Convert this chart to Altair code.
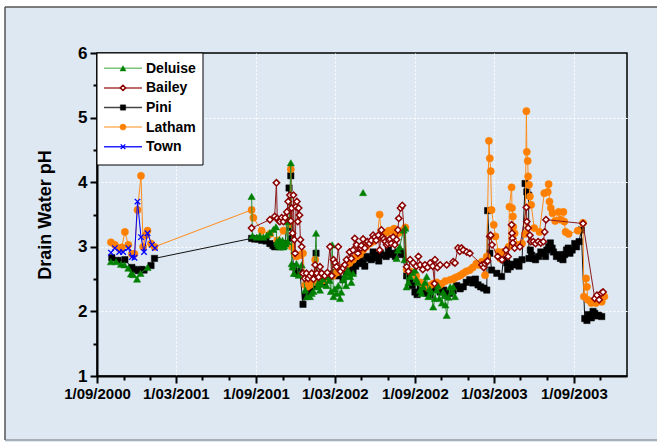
import altair as alt
import pandas as pd

# ---------------- data ----------------
deluise_dates = [
    "2000-10-03", "2000-10-15", "2000-10-26", "2000-11-03", "2000-11-12", "2000-11-18", "2000-11-23",
    "2000-12-02", "2000-12-10", "2000-12-26",
    "2001-08-22", "2001-08-24", "2001-09-03", "2001-09-10", "2001-09-18", "2001-09-26", "2001-10-03",
    "2001-10-11", "2001-10-17", "2001-10-21", "2001-10-25", "2001-10-28", "2001-11-03", "2001-11-08",
    "2001-11-11", "2001-11-16", "2001-11-20", "2001-11-22", "2001-11-24", "2001-11-27", "2001-12-03",
    "2001-12-08", "2001-12-15", "2001-12-23", "2001-12-27", "2002-01-03", "2002-01-11", "2002-01-17",
    "2002-01-20", "2002-01-26", "2002-02-06", "2002-02-14", "2002-02-20", "2002-02-23", "2002-02-26",
    "2002-03-05", "2002-03-13", "2002-03-20", "2002-03-31", "2002-04-05", "2002-04-12",
    "2002-05-05",
    "2002-07-21", "2002-07-24", "2002-07-28", "2002-08-06", "2002-08-08", "2002-08-10", "2002-08-13",
    "2002-08-21", "2002-09-01", "2002-09-08", "2002-09-13", "2002-09-20", "2002-09-28", "2002-10-02",
    "2002-10-08", "2002-10-13", "2002-10-21", "2002-10-27", "2002-11-02", "2002-11-08", "2002-11-13",
    "2002-11-21", "2002-11-28", "2002-12-02",
    # denser readings inside the clusters
    "2001-10-19", "2001-10-23", "2001-10-30", "2001-11-01", "2001-11-05", "2001-11-13",
    "2002-01-07", "2002-01-23", "2002-01-30", "2002-02-02", "2002-02-10", "2002-02-17", "2002-03-01",
    "2002-03-09", "2002-03-16", "2002-03-24", "2002-03-27", "2002-04-02", "2002-04-08",
    "2002-08-17", "2002-08-25", "2002-09-04", "2002-09-16", "2002-09-24", "2002-10-05", "2002-10-17",
    "2002-10-24", "2002-11-05", "2002-11-10", "2002-11-17", "2002-11-25",
]
deluise_ph = [
    2.77, 2.77, 2.73, 2.72, 2.67, 2.58, 2.57, 2.50, 2.59, 2.68,
    3.78, 3.17, 3.15, 3.17, 3.15, 3.18, 3.22, 3.27, 3.31, 3.05, 3.11, 3.00, 3.00, 3.05,
    3.39, 3.41, 4.30, 2.74, 2.69, 2.59, 2.74, 2.56, 2.72, 2.33, 2.23, 2.23, 2.31, 3.21,
    2.38, 2.33, 2.54, 2.54, 2.31, 3.03, 2.23, 2.28, 2.20, 2.49, 2.64, 2.54, 2.59,
    3.84,
    2.82, 2.95, 3.00, 3.26, 2.80, 3.29, 2.38, 2.54, 2.64, 2.45, 2.33, 2.38, 2.54, 2.23,
    2.30, 2.07, 2.33, 2.20, 2.13, 2.25, 1.94, 2.38, 2.38, 2.23,
    3.08, 3.02, 3.05, 3.10, 3.02, 3.08,
    2.28, 2.45, 2.42, 2.50, 2.40, 2.48, 2.35, 2.40, 2.30, 2.55, 2.40, 2.60, 2.45,
    2.45, 2.60, 2.50, 2.28, 2.45, 2.35, 2.20, 2.40, 2.30, 2.10, 2.22, 2.30,
]
# dates where the Deluise line is interrupted (no connecting line across them)
deluise_breaks = ["2001-03-01", "2002-04-20", "2002-06-01"]

bailey_dates = [
    "2001-08-22", "2001-10-03", "2001-10-14", "2001-10-18", "2001-10-20", "2001-10-24", "2001-10-26",
    "2001-10-30", "2001-11-03", "2001-11-07", "2001-11-11", "2001-11-14", "2001-11-18", "2001-11-20",
    "2001-11-22", "2001-11-24", "2001-11-26", "2001-11-28", "2001-11-30", "2001-12-02", "2001-12-04",
    "2001-12-06", "2001-12-08", "2001-12-10", "2001-12-12", "2001-12-15", "2001-12-18", "2001-12-22",
    "2001-12-26", "2001-12-30", "2002-01-03", "2002-01-07", "2002-01-11", "2002-01-15", "2002-01-19",
    "2002-01-23", "2002-01-26", "2002-01-30", "2002-02-06", "2002-02-12", "2002-02-18", "2002-02-22",
    "2002-02-26", "2002-03-05", "2002-03-09", "2002-03-14", "2002-03-20", "2002-03-28", "2002-04-04",
    "2002-04-08", "2002-04-16", "2002-04-20", "2002-04-23", "2002-04-30", "2002-05-05", "2002-05-09",
    "2002-05-15", "2002-05-20", "2002-05-28", "2002-06-04", "2002-06-09", "2002-06-12", "2002-06-16",
    "2002-06-22", "2002-06-28", "2002-07-04", "2002-07-09", "2002-07-13", "2002-07-17", "2002-07-21",
    "2002-07-24", "2002-07-26", "2002-07-30", "2002-08-03", "2002-08-13", "2002-08-17", "2002-08-21",
    "2002-08-28", "2002-09-04", "2002-09-09", "2002-09-13", "2002-09-19", "2002-09-24", "2002-09-30",
    "2002-10-06", "2002-10-12", "2002-10-16", "2002-10-17", "2002-10-23", "2002-10-29", "2002-11-13",
    "2002-11-28", "2002-12-02", "2002-12-09", "2002-12-13", "2002-12-17", "2002-12-21", "2002-12-29",
    "2003-01-05", "2003-02-02", "2003-02-06", "2003-02-09", "2003-02-13", "2003-02-15", "2003-02-20",
    "2003-02-22", "2003-02-25", "2003-03-10", "2003-03-20", "2003-03-29", "2003-04-03", "2003-04-11",
    "2003-04-12", "2003-04-13", "2003-04-14", "2003-04-18", "2003-04-30", "2003-05-15", "2003-05-16",
    "2003-05-19", "2003-05-23", "2003-05-25", "2003-05-31", "2003-06-05", "2003-06-11", "2003-06-17",
    "2003-06-23", "2003-06-26", "2003-06-29", "2003-09-22", "2003-10-19", "2003-10-24", "2003-10-29",
    "2003-11-03", "2003-11-07",
    "2002-03-02", "2002-03-24", "2002-04-12", "2002-05-01", "2002-05-24", "2002-06-01", "2002-06-19",
    "2002-06-25", "2002-07-01", "2002-07-06",
]
bailey_ph = [
    3.29, 3.42, 3.47, 3.99, 3.44, 3.40, 3.39, 3.45, 3.39, 3.45, 3.54, 3.70, 3.80, 3.40,
    3.60, 3.21, 3.80, 3.11, 2.90, 3.62, 3.70, 3.39, 3.60, 3.49, 3.11, 3.00, 2.59, 2.51,
    2.59, 2.51, 2.55, 2.59, 2.50, 2.72, 2.59, 2.53, 2.69, 2.59, 2.55, 2.60, 3.00, 2.55,
    2.80, 2.69, 3.00, 2.62, 2.67, 2.80, 2.92, 2.82, 3.13, 3.03, 2.90, 2.98, 3.12, 2.98,
    3.08, 3.05, 3.18, 3.10, 3.18, 2.95, 3.26, 3.12, 3.03, 3.10, 3.05, 3.15, 3.03, 3.11,
    3.26, 3.44, 3.60, 3.64, 2.69, 2.62, 2.80, 2.75, 2.70, 2.85, 2.72, 2.65, 2.72, 2.68,
    2.75, 2.70, 2.43, 2.80, 2.68, 2.72, 2.72, 2.77, 2.75, 2.98, 2.93, 2.98, 2.95, 2.92,
    2.90, 2.72, 2.68, 2.74, 2.77, 2.78, 3.16, 3.18, 3.03, 2.85, 2.80, 2.95, 2.85, 3.34,
    3.21, 3.13, 3.06, 2.98, 3.00, 3.61, 3.39, 3.29, 3.18, 3.08, 3.08, 3.05, 3.08, 3.06,
    3.08, 3.23, 3.42, 3.36, 2.20, 2.25, 2.18, 2.28, 2.30,
    2.75, 2.72, 2.95, 3.02, 3.10, 3.15, 3.15, 3.08, 3.05, 3.12,
]

pini_dates = [
    "2000-10-05", "2000-10-19", "2000-11-04", "2000-11-20", "2000-11-26", "2000-12-05", "2000-12-12",
    "2000-12-18", "2001-01-03", "2001-01-11",
    "2001-08-22", "2001-08-29", "2001-09-06", "2001-09-14", "2001-09-24", "2001-10-03", "2001-10-10",
    "2001-10-14", "2001-10-20", "2001-10-26", "2001-11-02", "2001-11-07", "2001-11-16", "2001-11-18",
    "2001-11-20", "2001-11-22", "2001-11-26", "2001-12-02", "2001-12-07", "2001-12-11", "2001-12-18",
    "2001-12-23", "2001-12-30", "2002-01-09", "2002-01-17", "2002-01-19", "2002-01-25", "2002-01-31",
    "2002-02-10", "2002-02-18", "2002-03-03", "2002-03-13", "2002-03-20", "2002-03-28", "2002-04-08",
    "2002-04-18", "2002-04-28", "2002-05-05", "2002-05-13", "2002-05-20", "2002-05-28", "2002-06-06",
    "2002-06-14", "2002-06-21", "2002-07-02", "2002-07-12", "2002-07-24", "2002-08-03",
    "2002-08-13", "2002-08-21", "2002-09-01", "2002-09-13", "2002-09-28", "2002-10-13", "2002-10-29",
    "2002-11-13", "2002-11-28", "2002-12-14", "2002-12-21", "2003-01-05", "2003-01-24", "2003-02-06",
    "2003-02-13", "2003-02-15", "2003-02-20", "2003-02-24", "2003-03-08", "2003-03-19", "2003-03-23",
    "2003-03-31", "2003-04-08", "2003-04-16", "2003-04-23", "2003-05-05", "2003-05-12", "2003-05-16",
    "2003-05-20", "2003-05-21", "2003-05-24", "2003-05-31", "2003-06-12", "2003-06-23", "2003-07-01",
    "2003-07-09", "2003-07-16", "2003-07-23", "2003-08-07", "2003-08-15", "2003-08-23", "2003-09-07",
    "2003-09-18", "2003-09-26", "2003-10-01", "2003-10-07", "2003-10-15", "2003-10-23", "2003-11-04",
    # denser readings inside the black band
    "2002-01-05", "2002-01-13", "2002-02-05", "2002-02-25", "2002-03-08", "2002-04-01", "2002-04-12",
    "2002-04-24", "2002-05-09", "2002-05-24", "2002-06-02", "2002-06-10", "2002-06-27", "2002-07-07",
    "2002-07-18", "2002-07-30",
    "2002-08-17", "2002-08-26", "2002-09-06", "2002-09-20", "2002-10-06", "2002-10-21", "2002-11-06",
    "2002-11-20", "2002-12-06", "2002-12-28", "2003-01-12", "2003-01-18", "2003-01-30",
    "2003-04-02", "2003-04-12", "2003-04-28", "2003-05-27", "2003-06-05", "2003-06-17", "2003-06-28",
    "2003-07-05", "2003-07-13", "2003-07-28", "2003-08-01", "2003-08-11", "2003-08-19", "2003-08-28",
    "2003-09-03", "2003-09-13", "2003-10-04", "2003-10-11", "2003-10-19", "2003-10-28",
]
pini_ph = [
    2.83, 2.79, 2.80, 2.68, 2.65, 2.63, 2.65, 2.64, 2.71, 2.82,
    3.13, 3.12, 3.12, 3.10, 3.09, 3.05, 3.02, 3.00, 3.01, 3.00, 3.02, 3.05, 3.91, 3.30,
    4.10, 3.13, 2.69, 2.59, 2.62, 2.60, 2.11, 2.23, 2.31, 2.45, 2.90, 2.54, 2.48, 2.50,
    2.52, 2.54, 2.60, 2.67, 2.49, 2.60, 2.72, 2.70, 2.80, 2.75, 2.85, 2.82, 2.92, 2.87,
    2.90, 2.87, 2.95, 2.90, 2.92, 2.88,
    2.55, 2.45, 2.30, 2.35, 2.28, 2.35, 2.30, 2.25, 2.32, 2.35, 2.38, 2.49, 2.41, 2.36,
    2.33, 3.56, 2.90, 2.64, 2.59, 2.54, 2.80, 2.75, 2.69, 2.72, 2.77, 2.80, 3.98, 3.85,
    3.80, 2.82, 2.95, 2.82, 2.85, 2.90, 2.95, 3.06, 2.92, 2.85, 2.80, 2.95, 2.90, 3.00,
    3.26, 1.89, 1.86, 1.92, 2.00, 1.93, 1.92,
    2.35, 2.40, 2.45, 2.58, 2.55, 2.65, 2.62, 2.74, 2.70, 2.80, 2.83, 2.78, 2.85, 2.88,
    2.85, 2.92,
    2.60, 2.40, 2.26, 2.30, 2.25, 2.38, 2.33, 2.28, 2.40, 2.45, 2.44, 2.50, 2.38,
    2.65, 2.73, 2.70, 2.87, 2.80, 2.92, 2.85, 3.00, 2.98, 2.88, 2.82, 2.88, 2.98, 2.95,
    3.05, 3.08, 1.95, 1.90, 1.97, 1.94,
]

latham_dates = [
    "2000-10-03", "2000-10-12", "2000-10-22", "2000-10-28", "2000-11-04", "2000-11-12", "2000-11-20",
    "2000-11-26", "2000-12-03", "2000-12-11", "2000-12-16", "2000-12-22", "2000-12-26", "2001-01-03",
    "2001-01-11",
    "2001-08-22", "2001-08-26", "2001-09-14", "2001-10-03", "2001-10-20", "2001-11-03", "2001-11-18",
    "2001-11-20", "2001-11-22", "2001-11-28", "2001-12-03", "2001-12-11", "2001-12-18", "2001-12-23",
    "2001-12-28", "2002-01-03", "2002-01-10", "2002-01-15", "2002-01-19", "2002-02-01", "2002-02-10",
    "2002-02-18", "2002-03-05", "2002-03-20", "2002-04-04", "2002-04-20", "2002-05-05", "2002-05-20",
    "2002-06-06", "2002-06-12", "2002-06-16", "2002-06-28", "2002-07-09", "2002-07-21", "2002-08-03",
    "2002-08-10",
    "2002-08-13", "2002-08-21", "2002-09-13", "2002-09-28", "2002-10-13", "2002-11-02", "2002-11-21",
    "2002-12-09", "2002-12-21", "2003-01-05", "2003-01-20", "2003-02-02", "2003-02-09", "2003-02-13",
    "2003-02-18", "2003-02-20", "2003-02-22", "2003-02-24", "2003-03-01", "2003-03-05", "2003-03-12",
    "2003-03-16", "2003-03-23", "2003-04-04", "2003-04-06", "2003-04-11", "2003-04-12", "2003-04-14",
    "2003-04-15", "2003-04-18", "2003-04-25", "2003-05-05", "2003-05-12", "2003-05-15", "2003-05-16",
    "2003-05-18", "2003-05-19", "2003-05-21", "2003-05-23", "2003-05-26", "2003-06-02", "2003-06-14",
    "2003-06-25", "2003-07-03", "2003-07-05", "2003-07-07", "2003-07-10", "2003-07-14", "2003-07-20",
    "2003-07-28", "2003-08-01", "2003-08-08", "2003-08-10", "2003-08-13", "2003-08-20", "2003-09-10",
    "2003-09-22", "2003-09-24", "2003-09-29", "2003-10-01", "2003-10-03", "2003-10-11", "2003-10-22",
    "2003-11-04", "2003-11-10",
    # denser readings inside the orange band
    "2002-01-24", "2002-02-05", "2002-02-25", "2002-03-12", "2002-03-28", "2002-04-12", "2002-04-28",
    "2002-05-12", "2002-05-28", "2002-06-20", "2002-07-03", "2002-07-15", "2002-07-27",
    "2002-09-04", "2002-09-20", "2002-10-05", "2002-10-21", "2002-10-27", "2002-11-10", "2002-11-28",
    "2002-12-02", "2002-12-15", "2002-12-28", "2003-01-12", "2003-01-26",
]
latham_ph = [
    3.07, 3.03, 2.98, 2.99, 3.23, 3.03, 2.89, 2.89, 3.57, 4.10, 3.00, 3.18, 3.25, 3.05,
    3.00,
    3.57, 3.45, 3.25, 3.20, 3.10, 3.25, 3.35, 4.20, 3.00, 2.90, 2.85, 2.87, 2.90, 2.41,
    2.38, 2.41, 2.45, 2.80, 2.45, 2.48, 2.50, 2.55, 2.60, 2.68, 2.75, 2.85, 2.95, 3.05,
    3.12, 3.50, 3.15, 3.22, 3.25, 3.20, 3.25, 3.30,
    2.65, 2.62, 2.45, 2.38, 2.43, 2.43, 2.49, 2.54, 2.59, 2.64, 2.74, 2.77, 2.56, 2.85,
    4.64, 4.37, 4.17, 3.57, 3.34, 3.16, 2.92, 2.82, 2.92, 3.00, 3.62, 3.92, 3.60, 3.47,
    3.31, 3.21, 3.03, 3.05, 3.20, 5.10, 4.47, 4.33, 4.09, 3.96, 3.78, 3.65, 3.29, 3.23,
    3.83, 3.85, 3.97, 3.70, 3.60, 3.52, 3.40, 3.54, 3.42, 3.54, 3.39, 3.23, 3.20, 3.25,
    3.37, 2.23, 2.51, 2.38, 2.18, 2.13, 2.13, 2.15, 2.23,
    2.42, 2.52, 2.55, 2.62, 2.72, 2.80, 2.88, 3.00, 3.08, 3.18, 3.25, 3.28, 3.22,
    2.55, 2.42, 2.40, 2.45, 2.40, 2.47, 2.50, 2.52, 2.56, 2.62, 2.68, 2.72,
]

town_dates = [
    "2000-10-03", "2000-10-12", "2000-10-22", "2000-10-31", "2000-11-12", "2000-11-20", "2000-11-26",
    "2000-12-03", "2000-12-11", "2000-12-18", "2000-12-26", "2001-01-05", "2001-01-12",
]
town_ph = [2.91, 2.98, 2.92, 2.92, 2.98, 2.84, 2.83, 3.70, 3.15, 2.92, 3.21, 3.03, 2.98]

series_names = ["Deluise", "Bailey", "Pini", "Latham", "Town"]
x_tick_dates = [
    "2000-09-01", "2000-11-01", "2001-01-01", "2001-03-01", "2001-05-01", "2001-07-01",
    "2001-09-01", "2001-11-01", "2002-01-01", "2002-03-01", "2002-05-01", "2002-07-01",
    "2002-09-01", "2002-11-01", "2003-01-01", "2003-03-01", "2003-05-01", "2003-07-01",
    "2003-09-01", "2003-11-01",
]
x_domain = ["2000-09-01", "2004-01-01"]
y_ticks = [1, 1.5, 2, 2.5, 3, 3.5, 4, 4.5, 5, 5.5, 6]
y_title = "Drain Water pH"

# ---------------- helpers ----------------
FONT = "Liberation Sans"
BG = "#DDE8F3"


def to_dt(s):
    y, m, d = (int(p) for p in s.split("-"))
    return alt.DateTime(year=y, month=m, date=d)


def frame(dates, vals, breaks=()):
    cuts = [pd.Timestamp(b) for b in breaks]
    rows = []
    for d, v in zip(dates, vals):
        t = pd.Timestamp(d)
        rows.append({"date": t, "ph": v, "seg": sum(t > c for c in cuts)})
    return pd.DataFrame(rows).sort_values("date")


major_x = "month(datum.value) % 6 == 2"
x_axis = alt.Axis(
    values=[to_dt(s) for s in x_tick_dates],
    labelExpr=f"{major_x} ? timeFormat(datum.value, '1/%m/%Y') : ''",
    tickSize={"condition": {"test": major_x, "value": 7}, "value": 4},
    grid=True, gridColor="white", gridWidth=1, gridDash=[2, 2],
    gridOpacity={"condition": {"test": f"{major_x} && (year(datum.value) > 2000 || month(datum.value) > 8)",
                               "value": 1}, "value": 0},
    domainColor="black", domainWidth=2, tickColor="black", tickWidth=2,
    labelFont=FONT, labelFontWeight="bold", labelFontSize=15, labelColor="black",
    labelPadding=3, labelOverlap=False, labelFlush=False, title=None,
)
major_y = "datum.value % 1 == 0"
y_axis = alt.Axis(
    values=y_ticks,
    labelExpr=f"{major_y} ? format(datum.value, 'd') : ''",
    tickSize={"condition": {"test": major_y, "value": 7}, "value": 4},
    grid=True, gridColor="white", gridWidth=1, gridDash=[2, 2],
    gridOpacity={"condition": {"test": f"{major_y} && datum.value > 1 && datum.value < 6", "value": 1},
                 "value": 0},
    domainColor="black", domainWidth=2, tickColor="black", tickWidth=2,
    labelFont=FONT, labelFontWeight="bold", labelFontSize=17, labelColor="black",
    labelPadding=3, labelOverlap=False,
    title=y_title, titleFont=FONT, titleFontWeight="bold", titleFontSize=18,
    titleColor="black", titlePadding=23,
)
X = alt.X("date:T", scale=alt.Scale(domain=[to_dt(s) for s in x_domain]), axis=x_axis)
Y = alt.Y("ph:Q", scale=alt.Scale(domain=[1, 6], nice=False, zero=False), axis=y_axis)

XPATH = "M-1,-1L1,1M1,-1L-1,1"
styles = {
    "Deluise": dict(shape="triangle-up", size=52, fill="#008000", stroke="#008000", sw=0.5,
                    line="#2E8B2E", legline="#7CC47C"),
    "Bailey": dict(shape="diamond", size=40, fill="white", stroke="#8B0000", sw=1.5,
                   line="#8B1A1A", legline="#A83A3A"),
    "Pini": dict(shape="square", size=40, fill="black", stroke="black", sw=0.5,
                 line="#111111", legline="#444444"),
    "Latham": dict(shape="circle", size=52, fill="#FF8000", stroke="#FF8000", sw=0.5,
                   line="#FF8C1A", legline="#FFB366"),
    "Town": dict(shape=XPATH, size=30, fill=None, stroke="#0000FF", sw=1.3,
                 line="#0000FF", legline="#2222FF"),
}
series_data = {
    "Deluise": frame(deluise_dates, deluise_ph, deluise_breaks),
    "Bailey": frame(bailey_dates, bailey_ph),
    "Pini": frame(pini_dates, pini_ph),
    "Latham": frame(latham_dates, latham_ph),
    "Town": frame(town_dates, town_ph),
}


def point_mark(st, scale=1.0):
    kw = dict(shape=st["shape"], size=st["size"] * scale, stroke=st["stroke"], strokeWidth=st["sw"],
              opacity=1, strokeOpacity=1)
    if st["fill"] is None:
        kw.update(filled=False, fillOpacity=0)
    else:
        kw.update(filled=True, fill=st["fill"], fillOpacity=1)
    return kw


one = pd.DataFrame({"k": [0]})

# decoration outside the plot area (white strips and frame line)
deco = [
    alt.Chart(one).mark_rect(fill="white").encode(
        x=alt.value(-97), x2=alt.value(570), y=alt.value(-53), y2=alt.value(-46)),
    alt.Chart(one).mark_rect(fill="white").encode(
        x=alt.value(-97), x2=alt.value(-92), y=alt.value(-53), y2=alt.value(395)),
    alt.Chart(one).mark_rule(color="#555555", strokeWidth=1.5).encode(
        x=alt.value(-92), x2=alt.value(570), y=alt.value(-46)),
    alt.Chart(one).mark_rule(color="#555555", strokeWidth=1.5).encode(
        x=alt.value(-92), y=alt.value(-46), y2=alt.value(387)),
    alt.Chart(one).mark_rule(color="#777777", strokeWidth=1).encode(
        x=alt.value(-92), x2=alt.value(570), y=alt.value(387)),
]

layers = list(deco)
for name in ["Pini", "Latham", "Deluise", "Bailey", "Town"]:
    st = styles[name]
    base = alt.Chart(series_data[name])
    layers.append(base.mark_line(color=st["line"], strokeWidth=1).encode(x=X, y=Y, detail="seg:N"))
    layers.append(base.mark_point(**point_mark(st)).encode(x=X, y=Y))

# legend (drawn by hand so that each entry shows line + marker)
layers.append(alt.Chart(one).mark_rect(fill="white", stroke="black", strokeWidth=1).encode(
    x=alt.value(0), x2=alt.value(106), y=alt.value(0), y2=alt.value(112)))
for i, name in enumerate(series_names):
    st = styles[name]
    yy = 15.3 + i * 19.6
    layers.append(alt.Chart(one).mark_rule(color=st["legline"], strokeWidth=1.5).encode(
        x=alt.value(7), x2=alt.value(45), y=alt.value(yy)))
    layers.append(alt.Chart(one).mark_point(**point_mark(st, 0.7)).encode(
        x=alt.value(26), y=alt.value(yy)))
    layers.append(alt.Chart(one).mark_text(
        align="left", baseline="middle", font=FONT, fontWeight="bold", fontSize=14, color="black"
    ).encode(x=alt.value(49), y=alt.value(yy + 0.5), text=alt.value(name)))

chart = alt.layer(*layers).properties(
    width=530, height=323,
    autosize=alt.AutoSizeParams(type="none"),
    padding={"left": 97, "top": 53, "right": 30, "bottom": 66},
).configure(background=BG).configure_view(stroke="black", strokeWidth=1.5)

chart.save("out.html", embed_options={"renderer": "svg", "actions": False})
